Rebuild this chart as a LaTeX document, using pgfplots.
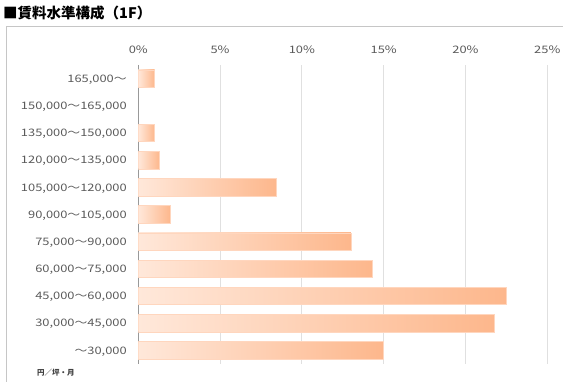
\documentclass[border=0pt]{standalone}
\usepackage{pgfplots}
\pgfplotsset{compat=1.18}
\usepackage{fontspec}
\setmainfont{Noto Sans CJK JP}
\newfontfamily\labfont[FakeStretch=1.25]{Noto Sans CJK JP}
\definecolor{barL}{RGB}{255,232,218}
\definecolor{barR}{RGB}{253,183,140}
\definecolor{barE}{RGB}{255,214,190}
\definecolor{txt}{RGB}{90,90,90}
\pgfplotsset{gbar/.style={xbar, bar width=17.5pt, bar shift=0pt, draw=barE, line width=0.6pt, left color=barL, right color=barR}}
\begin{document}
\begin{tikzpicture}[x=1pt,y=1pt]
\useasboundingbox (0,0) rectangle (563,382);
\draw[color=gray!45,line width=0.8pt] (6.5,0) -- (6.5,356) -- (563,356);
\node[anchor=west,font=\fontsize{14.5}{15}\selectfont\bfseries,inner sep=0pt] at (3,369) {■賃料水準構成（1F）};
\node[font=\fontsize{7.5}{8}\selectfont\bfseries,text=black!75,inner sep=0pt] at (56,9) {円／坪・月};
\begin{axis}[
  at={(138.3pt,18pt)}, anchor=south west,
  scale only axis, width=409pt, height=299pt,
  xmin=0, xmax=25, ymin=-0.5, ymax=10.5,
  y dir=reverse,
  axis line style={draw=none},
  major tick length=0pt,
  xtick={5,10,15,20,25},
  xticklabels={5\%,10\%,15\%,20\%,25\%},
  extra x ticks={0}, extra x tick labels={0\%},
  extra x tick style={grid style={color=black!40,line width=0.8pt}},
  xticklabel pos=upper,
  xmajorgrids, grid style={color=black!12,line width=0.8pt},
  xticklabel style={font=\labfont\fontsize{10.3}{11}\selectfont,text=txt,yshift=8pt},
  ytick={0,...,10},
  yticklabels={{165,000～},{150,000～165,000},{135,000～150,000},{120,000～135,000},{105,000～120,000},{90,000～105,000},{75,000～90,000},{60,000～75,000},{45,000～60,000},{30,000～45,000},{～30,000}},
  yticklabel style={font=\labfont\fontsize{10.3}{11}\selectfont,text=txt,xshift=-8pt,yshift=-1pt},
]
\addplot[gbar] coordinates {(1.0,0)};
\addplot[gbar] coordinates {(1.0,2)};
\addplot[gbar] coordinates {(1.3,3)};
\addplot[gbar] coordinates {(8.46,4)};
\addplot[gbar] coordinates {(1.96,5)};
\addplot[gbar] coordinates {(13.0,6)};
\addplot[gbar] coordinates {(14.3,7)};
\addplot[gbar] coordinates {(22.47,8)};
\addplot[gbar] coordinates {(21.76,9)};
\addplot[gbar] coordinates {(14.96,10)};
\end{axis}
\end{tikzpicture}
\end{document}
